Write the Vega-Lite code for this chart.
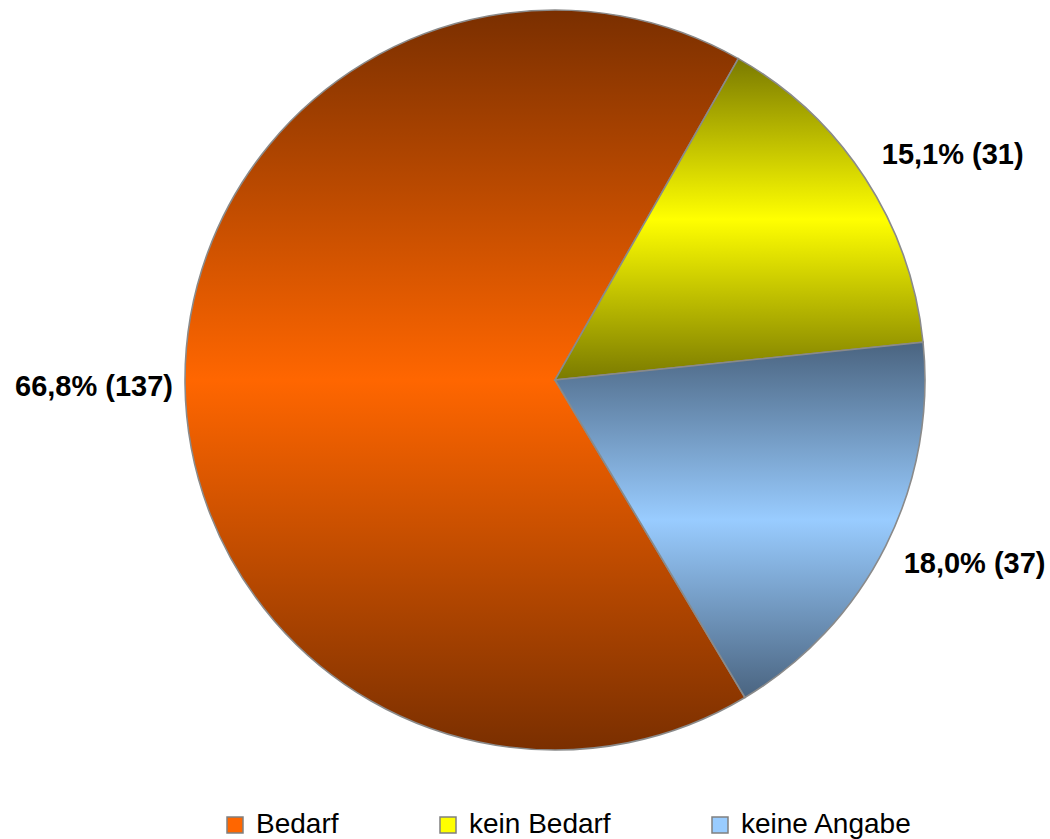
{
  "$schema": "https://vega.github.io/schema/vega-lite/v6.json",
  "width": 990,
  "height": 760,
  "autosize": {"type": "none"},
  "padding": {"left": 60, "top": 0, "right": 0, "bottom": 79},
  "background": "white",
  "config": {"view": {"stroke": null}},
  "data": {
    "values": [
      {"Kategorie": "Bedarf", "Anzahl": 137, "Label": "66,8% (137)"},
      {"Kategorie": "kein Bedarf", "Anzahl": 31, "Label": "15,1% (31)"},
      {"Kategorie": "keine Angabe", "Anzahl": 37, "Label": "18,0% (37)"}
    ]
  },
  "encoding": {
    "theta": {"field": "Anzahl", "type": "quantitative", "stack": true, "scale": {"range": [2.6025, 8.8857]}},
    "order": {"field": "Kategorie", "type": "ordinal", "sort": "ascending"}
  },
  "layer": [
    {
      "mark": {"type": "arc", "outerRadius": 370, "stroke": "#8a8a8a", "strokeWidth": 1.6},
      "encoding": {
        "detail": {"field": "Kategorie", "type": "nominal"},
        "fill": {
          "condition": [
            {"test": "datum.Kategorie === 'Bedarf'", "value": {"gradient": "linear", "x1": 0, "y1": 0, "x2": 0, "y2": 1, "stops": [{"offset": 0, "color": "#7a2f00"}, {"offset": 0.5, "color": "#ff6600"}, {"offset": 1, "color": "#7a2f00"}]}},
            {"test": "datum.Kategorie === 'kein Bedarf'", "value": {"gradient": "linear", "x1": 0, "y1": 0, "x2": 0, "y2": 1, "stops": [{"offset": 0, "color": "#7a7a00"}, {"offset": 0.5, "color": "#ffff00"}, {"offset": 1, "color": "#7a7a00"}]}}
          ],
          "value": {"gradient": "linear", "x1": 0, "y1": 0, "x2": 0, "y2": 1, "stops": [{"offset": 0, "color": "#4a6480"}, {"offset": 0.5, "color": "#99ccff"}, {"offset": 1, "color": "#4a6480"}]}
        }
      }
    },
    {
      "mark": {"type": "arc", "outerRadius": 0},
      "encoding": {
        "color": {
          "field": "Kategorie",
          "type": "nominal",
          "scale": {"domain": ["Bedarf", "kein Bedarf", "keine Angabe"], "range": ["#ff6600", "#ffff00", "#99ccff"]},
          "legend": {
            "title": null,
            "orient": "none",
            "legendX": 161,
            "legendY": 811,
            "direction": "horizontal",
            "padding": 0,
            "symbolType": "square",
            "symbolSize": 256,
            "symbolStrokeColor": "#808080",
            "symbolStrokeWidth": 1.5,
            "labelFont": "Liberation Sans",
            "labelFontSize": 28,
            "labelColor": "#000000",
            "labelOffset": 7,
            "labelLimit": 300,
            "columnPadding": 95
          }
        }
      }
    },
    {
      "mark": {"type": "text", "radius": 382, "align": "right", "baseline": "middle", "dy": 3, "font": "Liberation Sans", "fontSize": 29, "fontWeight": "bold", "fill": "#000000"},
      "encoding": {
        "detail": {"field": "Kategorie", "type": "nominal"},
        "text": {"condition": {"test": "datum.Kategorie === 'Bedarf'", "field": "Label", "type": "nominal"}, "value": ""}
      }
    },
    {
      "mark": {"type": "text", "radius": 390, "align": "left", "baseline": "middle", "dy": -12, "font": "Liberation Sans", "fontSize": 29, "fontWeight": "bold", "fill": "#000000"},
      "encoding": {
        "detail": {"field": "Kategorie", "type": "nominal"},
        "text": {"condition": {"test": "datum.Kategorie === 'kein Bedarf'", "field": "Label", "type": "nominal"}, "value": ""}
      }
    },
    {
      "mark": {"type": "text", "radius": 390, "align": "left", "baseline": "middle", "dy": 9, "font": "Liberation Sans", "fontSize": 29, "fontWeight": "bold", "fill": "#000000"},
      "encoding": {
        "detail": {"field": "Kategorie", "type": "nominal"},
        "text": {"condition": {"test": "datum.Kategorie === 'keine Angabe'", "field": "Label", "type": "nominal"}, "value": ""}
      }
    }
  ]
}
